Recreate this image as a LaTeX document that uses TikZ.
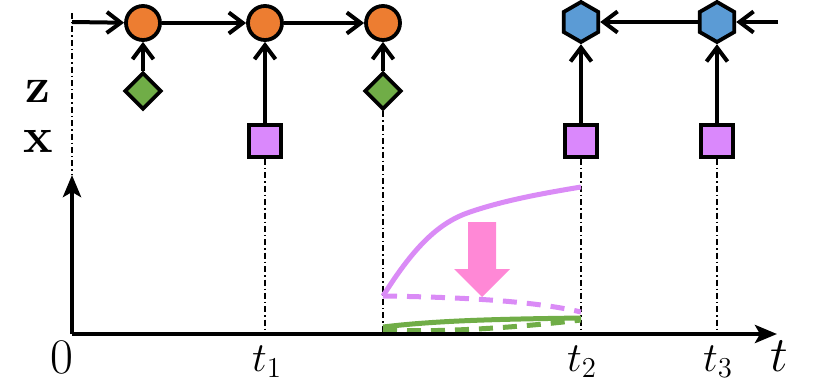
\documentclass[tikz,border=0pt]{standalone}
\usepackage{xcolor}
\usepackage{tikz}
\usetikzlibrary{arrows.meta,shapes.geometric}
\definecolor{latentorange}{HTML}{ED7D31}
\definecolor{latentblue}{HTML}{5B9BD5}
\definecolor{codegreen}{HTML}{70AD47}
\definecolor{obsviolet}{HTML}{DA88FC}
\definecolor{curveviolet}{HTML}{DA8BF6}
\definecolor{shiftpink}{HTML}{FF88D6}
\tikzset{
  seqpicture/.style={x=0.5pt, y=-0.5pt, line width=2pt},
  fwdstate/.style={circle, draw, line width=1.9pt, fill=latentorange, minimum size=17pt, inner sep=0pt},
  bwdstate/.style={regular polygon, regular polygon sides=6, shape border rotate=30, draw, line width=1.9pt, fill=latentblue, minimum size=20pt, inner sep=0pt},
  codenode/.style={diamond, aspect=1, draw, line width=1.9pt, fill=codegreen, minimum size=18.5pt, inner sep=0pt},
  obsnode/.style={rectangle, draw, line width=1.9pt, fill=obsviolet, minimum size=16pt, inner sep=0pt},
  seqarrow/.style={-{Straight Barb[length=7pt, width=10.5pt]}, line width=2pt},
  axisarrow/.style={-{Stealth[length=11pt, width=9pt, inset=2.5pt]}, line width=2.2pt},
  guide/.style={line width=0.8pt, dash pattern=on 3pt off 1.5pt on 0.7pt off 1.5pt},
  ticklabel/.style={font=\huge, anchor=base, inner sep=0pt},
  biglabel/.style={font=\Huge, anchor=base, inner sep=0pt},
  rowlabel/.style={font=\Huge, inner sep=0pt},
  curve/.style={line width=2.5pt, line cap=butt},
  curvedash/.style={curve, dash pattern=on 7pt off 5pt}
}
\begin{document}
\begin{tikzpicture}[seqpicture]
\useasboundingbox (0,0) rectangle (822,380);
% time axis
\coordinate (origin) at (72,334);
\coordinate (ytop) at (72,175);
\coordinate (xend) at (777,334);
\coordinate (fwdin) at (72,22);
\coordinate (bwdin) at (778,22);
% forward chain
\node[fwdstate] (f1) at (143,23) {};
\node[fwdstate] (f2) at (265,23) {};
\node[fwdstate] (f3) at (383,23) {};
\node[codenode] (c1) at (143,91) {};
\node[codenode] (c2) at (383,91) {};
\node[obsnode] (o1) at (265,141) {};
% backward chain
\node[bwdstate] (b1) at (581,22) {};
\node[bwdstate] (b2) at (717,22) {};
\node[obsnode] (o2) at (581,141) {};
\node[obsnode] (o3) at (717,141) {};
% row labels
\node[rowlabel] (zlab) at (38,91) {$\mathbf{z}$};
\node[rowlabel] (xlab) at (38,141) {$\mathbf{x}$};
% guides
\draw[guide] (72,13) -- (ytop);
\draw[guide] (o1.south) -- (o1.south |- origin);
\draw[guide] (c2.south) -- (c2.south |- origin);
\draw[guide] (o2.south) -- (o2.south |- origin);
\draw[guide] (o3.south) -- (o3.south |- origin);
% connectors
\draw[seqarrow] (fwdin) -- (f1);
\draw[seqarrow] (f1) -- (f2);
\draw[seqarrow] (f2) -- (f3);
\draw[seqarrow] (c1) -- (f1);
\draw[seqarrow] (o1) -- (f2);
\draw[seqarrow] (c2) -- (f3);
\draw[seqarrow] (bwdin) -- (b2);
\draw[seqarrow] (b2) -- (b1);
\draw[seqarrow] (o2) -- (b1);
\draw[seqarrow] (o3) -- (b2);
% curves
\draw[curve, curveviolet] (383,296) .. controls (415,245) and (440,222) .. (470,212)
  .. controls (505,200) and (545,193) .. (581,187);
\draw[curvedash, curveviolet] (383,296) .. controls (450,297) and (530,300) .. (581,312);
\draw[curve, codegreen] (383,327) .. controls (440,320) and (510,319) .. (581,318);
\draw[curvedash, codegreen] (383,330) .. controls (450,333) and (530,326) .. (581,320);
\fill[shiftpink] (468,222) -- (496,222) -- (496,269) -- (510,269) -- (482,297)
  -- (454,269) -- (468,269) -- cycle;
% axes
\draw[axisarrow] (origin) -- (ytop);
\draw[axisarrow] (origin) -- (xend);
\node[biglabel] (l0) at (62,373) {$0$};
\node[ticklabel] (l1) at (267,371) {$t_1$};
\node[ticklabel] (l2) at (582,371) {$t_2$};
\node[ticklabel] (l3) at (718,371) {$t_3$};
\node[biglabel] (lt) at (779,371) {$t$};
\end{tikzpicture}
\end{document}
